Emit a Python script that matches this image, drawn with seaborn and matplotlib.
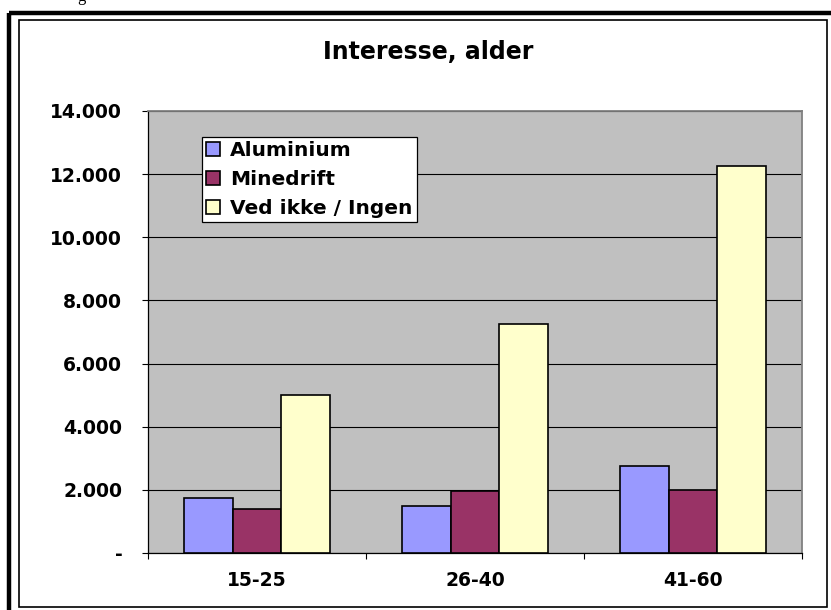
import matplotlib
matplotlib.use("Agg")
import matplotlib.pyplot as plt
from matplotlib.patches import Rectangle
from matplotlib.ticker import FixedLocator
import seaborn as sns
import pandas as pd

# ---- data ----
categories = ["15-25", "26-40", "41-60"]
series_names = ["Aluminium", "Minedrift", "Ved ikke / Ingen"]
aluminium = [1750, 1500, 2750]
minedrift = [1400, 1975, 2000]
ved_ikke = [5000, 7250, 12250]
y_ticks = [0, 2000, 4000, 6000, 8000, 10000, 12000, 14000]
y_tick_labels = ["-", "2.000", "4.000", "6.000", "8.000", "10.000", "12.000", "14.000"]
title = "Interesse, alder"
colors = ["#9999FF", "#993366", "#FFFFCC"]

rows = []
for name, vals in zip(series_names, [aluminium, minedrift, ved_ikke]):
    for cat, v in zip(categories, vals):
        rows.append({"Alder": cat, "Svar": name, "Antal": v})
df = pd.DataFrame(rows)

sns.set_theme(style="white")
plt.rcParams["font.family"] = ["DejaVu Sans"]
plt.rcParams["font.weight"] = "bold"
for k in ["text.color", "axes.labelcolor", "xtick.color", "ytick.color"]:
    plt.rcParams[k] = "black"

W, H = 831, 610
fig = plt.figure(figsize=(W / 100, H / 100), dpi=100)
fig.patch.set_facecolor("white")

# axes placement (plot area)
left, right, top, bottom = 148, 802, 111, 553
ax = fig.add_axes([left / W, 1 - bottom / H, (right - left) / W, (bottom - top) / H])
ax.set_facecolor("#C0C0C0")

sns.barplot(data=df, x="Alder", y="Antal", hue="Svar", order=categories,
            hue_order=series_names, palette=colors, saturation=1,
            width=2 / 3, edgecolor="black", linewidth=1.2, ax=ax, zorder=3)

ax.set_ylim(0, 14000)
ax.set_xlim(-0.5, 2.5)
ax.set_yticks(y_ticks)
ax.set_yticklabels(y_tick_labels, fontsize=13.5, fontweight="bold", color="black")
ax.yaxis.grid(True, color="black", linewidth=0.8, zorder=1)
ax.set_axisbelow(True)
ax.set_xlabel("")
ax.set_ylabel("")
ax.set_xticks(range(len(categories)))
ax.set_xticklabels(categories, fontsize=13.5, fontweight="bold", color="black")
ax.xaxis.set_minor_locator(FixedLocator([-0.5, 0.5, 1.5, 2.5]))
ax.tick_params(axis="x", which="major", length=0, pad=13)
ax.tick_params(axis="x", which="minor", length=4.5, width=0.8, color="black", bottom=True)
ax.tick_params(axis="y", which="major", length=4.5, width=0.8, color="black", left=True, pad=14)

for s in ["left", "bottom"]:
    ax.spines[s].set_color("black")
    ax.spines[s].set_linewidth(0.9)
for s in ["top", "right"]:
    ax.spines[s].set_color("#808080")
    ax.spines[s].set_linewidth(1.3)

leg = ax.legend(loc="upper left",
                bbox_to_anchor=((202 - left) / (right - left), (bottom - 137) / (bottom - top)),
                frameon=True, fancybox=False, shadow=False, framealpha=1,
                prop={"size": 14.5, "weight": "bold"}, handlelength=0.7, handleheight=0.7,
                handletextpad=0.5, labelspacing=0.5, borderpad=0.2, borderaxespad=0)
leg.get_frame().set_edgecolor("black")
leg.get_frame().set_linewidth(0.9)
leg.set_zorder(5)
for t in leg.get_texts():
    t.set_color("black")

fig.text(428 / W, 1 - 52 / H, title, ha="center", va="center", fontsize=17,
         fontweight="bold", color="black")

# cut-off text fragment at the very top of the reference
fig.text(81 / W, 1 - 1 / H, "g", ha="center", va="baseline", fontsize=12,
         family="Liberation Serif", fontweight="normal", color="black")

# borders
fig.patches.append(Rectangle((9 / W, 1 - 12.5 / H), 2.0, -2.0, transform=fig.transFigure,
                             fill=False, edgecolor="black", linewidth=3.2, zorder=10))
fig.patches.append(Rectangle((19 / W, 1 - 607 / H), (827 - 19) / W, (607 - 20) / H,
                             transform=fig.transFigure, fill=False, edgecolor="black",
                             linewidth=1.2, zorder=10))

fig.savefig("out.png", dpi=100, facecolor="white")
